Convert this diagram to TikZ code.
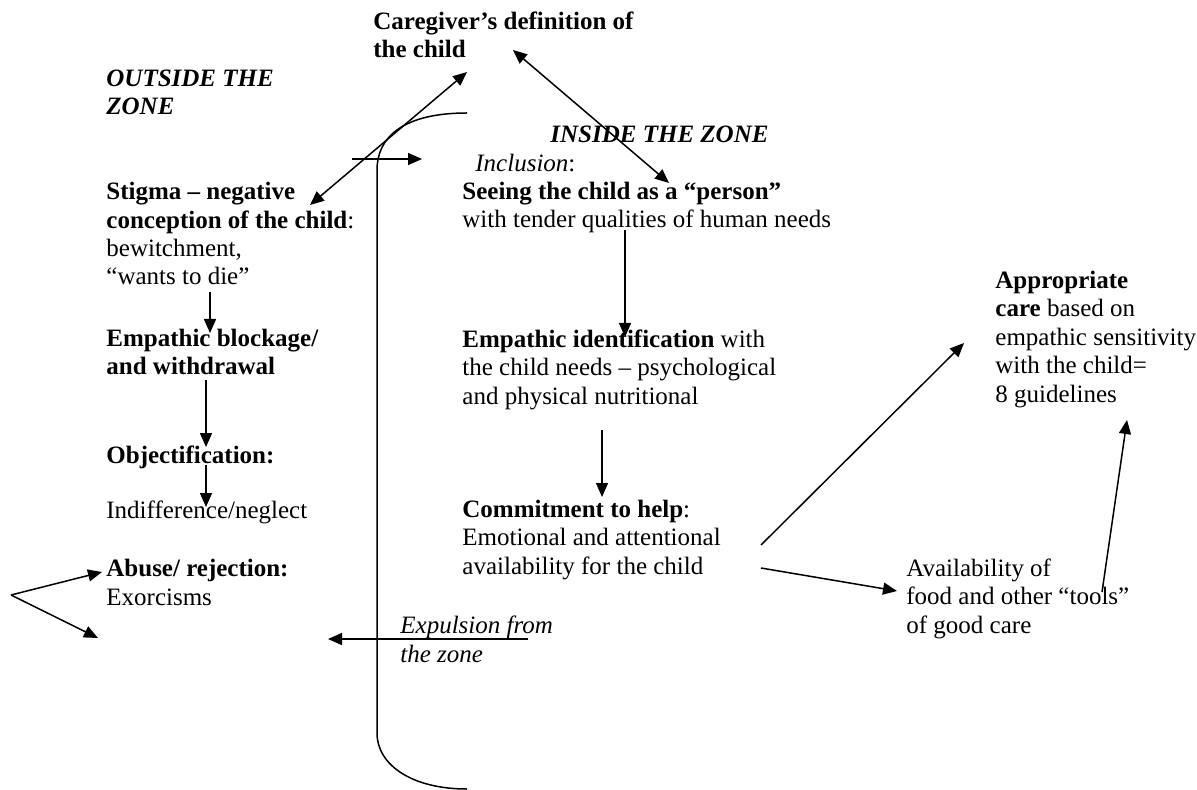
\documentclass[tikz,border=0pt]{standalone}
\usepackage{fontspec}
\setmainfont{Liberation Serif}
\usetikzlibrary{arrows.meta}

\begin{document}
\begin{tikzpicture}[x=0.5pt, y=-0.5pt,
        txt/.style={anchor=base west, align=left, inner sep=0pt,
                    font=\fontsize{12.5}{14.2}\selectfont},
        arr/.style={-{Triangle[length=7pt, width=6pt]}, line width=0.75pt},
        dbl/.style={{Triangle[length=7pt, width=6pt]}-{Triangle[length=7pt, width=6pt]},
                    line width=0.75pt}
      ]
        \useasboundingbox (0,0) rectangle (1197,790);
        % zone border
        \draw[line width=0.75pt] (467,113) .. controls (402,113) and (377,138) .. (377,170)
          -- (377,733) .. controls (377,765) and (412,789) .. (467,789);
        % left side (nodes sit on the baseline of their last line)
        \node[txt] (outside) at (106,115) {\textbf{\textit{OUTSIDE THE}}\\\textbf{\textit{ZONE}}};
        \node[txt] (caregiver) at (373,58) {\textbf{Caregiver's definition of}\\\textbf{the child}};
        \node[txt] (stigma) at (106,285) {\textbf{Stigma -- negative}\\\textbf{conception of the child}:\\bewitchment,\\``wants to die''};
        \node[txt] (blockage) at (106,375) {\textbf{Empathic blockage/}\\\textbf{and withdrawal}};
        \node[txt] (objectif) at (106,463) {\textbf{Objectification:}};
        \node[txt] (neglect) at (106,518) {Indifference/neglect};
        \node[txt] (abuse) at (106,605) {\textbf{Abuse/ rejection:}\\Exorcisms};
        \node[txt] (expulsion) at (400,662) {\textit{Expulsion from}\\\textit{the zone}};
        % right side
        \node[txt] (inside) at (550,143) {\textbf{\textit{INSIDE THE ZONE}}};
        \node[txt] (inclusion) at (475,172) {\textit{Inclusion}:};
        \node[txt] (seeing) at (462,228) {\textbf{Seeing the child as a ``person''}\\with tender qualities of human needs};
        \node[txt] (identif) at (462,404) {\textbf{Empathic identification} with\\the child needs -- psychological\\and physical nutritional};
        \node[txt] (commit) at (462,574) {\textbf{Commitment to help}:\\Emotional and attentional\\availability for the child};
        \node[txt] (avail) at (906,633) {Availability of\\food and other ``tools''\\of good care};
        \node[txt] (approp) at (995,402) {\textbf{Appropriate}\\\textbf{care} based on\\empathic sensitivity\\with the child=\\8 guidelines};
        % arrow ends
        \coordinate (stigmaTip) at (310,205);
        \coordinate (careLow) at (467,72);
        \coordinate (careRight) at (513,50);
        \coordinate (personTip) at (669,183);
        \coordinate (enterA) at (352,159);
        \coordinate (enterB) at (422,159);
        \coordinate (dieA) at (210,292);
        \coordinate (dieB) at (210,333);
        \coordinate (withA) at (206,380);
        \coordinate (withB) at (206,447);
        \coordinate (objA) at (206,465);
        \coordinate (objB) at (206,507);
        \coordinate (fork) at (11,595);
        \coordinate (forkUp) at (102,572);
        \coordinate (forkDown) at (98,638);
        \coordinate (expA) at (528,639);
        \coordinate (expB) at (328,639);
        \coordinate (needsA) at (625,230);
        \coordinate (needsB) at (625,337);
        \coordinate (nutrA) at (602,430);
        \coordinate (nutrB) at (602,497);
        \coordinate (helpA) at (761,545);
        \coordinate (helpB) at (761,568);
        \coordinate (careTip) at (964,343);
        \coordinate (availTip) at (897,591);
        \coordinate (toolsA) at (1102,592);
        \coordinate (toolsB) at (1127,420);
        % connectors
        \draw[dbl] (stigmaTip) -- (careLow);
        \draw[dbl] (careRight) -- (personTip);
        \draw[arr] (enterA) -- (enterB);
        \draw[arr] (dieA) -- (dieB);
        \draw[arr] (withA) -- (withB);
        \draw[arr] (objA) -- (objB);
        \draw[arr] (fork) -- (forkUp);
        \draw[arr] (fork) -- (forkDown);
        \draw[arr] (expA) -- (expB);
        \draw[arr] (needsA) -- (needsB);
        \draw[arr] (nutrA) -- (nutrB);
        \draw[arr] (helpA) -- (careTip);
        \draw[arr] (helpB) -- (availTip);
        \draw[arr] (toolsA) -- (toolsB);
      \end{tikzpicture}
\end{document}
